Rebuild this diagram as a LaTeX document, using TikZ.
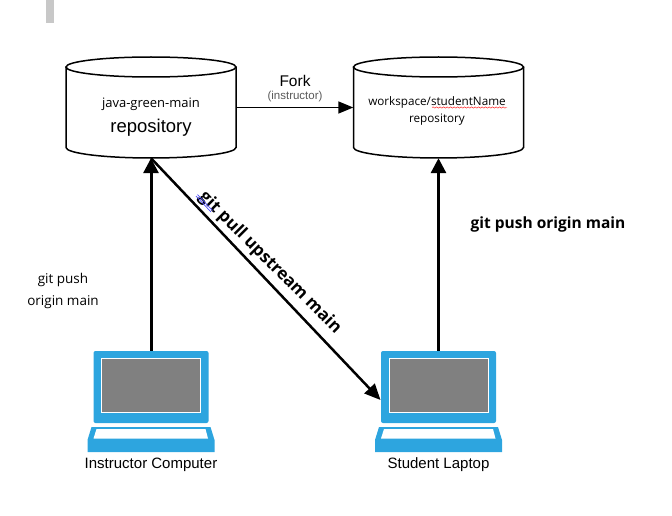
\documentclass[tikz,border=0pt]{standalone}
\usepackage{fontspec}
\setmainfont{Liberation Sans}
\newfontfamily\segoe{Open Sans}
\usetikzlibrary{arrows.meta,decorations.pathmorphing}
\definecolor{laptopblue}{HTML}{2DA5DF}
\definecolor{screengrey}{HTML}{808080}
\definecolor{bargrey}{HTML}{C8C8C8}
\tikzset{
    flow/.style={line width=3pt,-{Triangle[length=15pt,width=15pt]}},
    repo/.pic={
        \node[minimum width=170pt,minimum height=101pt,inner sep=0pt] (-box) at (0,0) {};
        \draw[line width=1.5pt] (0,-40.5) ellipse [x radius=85pt,y radius=10pt];
        \draw[line width=1.5pt] (-85,-40.5) -- (-85,40) arc [start angle=180,end angle=360,x radius=85pt,y radius=10.5pt] -- (85,-40.5);
    },
    laptop/.pic={
        \node[fill=laptopblue,rounded corners=2pt,minimum width=115pt,minimum height=72pt,inner sep=0pt] (-body) at (0,0) {};
        \fill[white] (-50,-29) rectangle (50,26);
        \fill[screengrey] (-49,-28) rectangle (49,25);
        \fill[laptopblue] (-59.5,40) -- (59.5,40) -- (63.5,53) -- (63.5,65) -- (-63.5,65) -- (-63.5,53) -- cycle;
        \fill[white] (-54.5,42) -- (54.5,42) -- (57,51.5) -- (-57.5,51.5) -- cycle;
        \coordinate (-side) at (-58,13);
    }
}
\begin{document}
\begin{tikzpicture}[x=1pt,y=-1pt]
    \useasboundingbox (0,0) rectangle (672,516);
    \fill[bargrey] (46,0) rectangle (54,23);
    % repositories
    \pic (javaRepo) at (151,107.5) {repo};
    \pic (studentRepo) at (438.5,107.5) {repo};
    \node (javaName) at (151,104) {\segoe\fontsize{13}{15}\selectfont java-green-main};
    \node (javaWord) at (151,128) {\fontsize{18.5}{20}\selectfont repository};
    \node (studentName) at (437,102) {\segoe\fontsize{11.7}{15}\selectfont workspace/studentName};
    \node (studentWord) at (437,120) {\segoe\fontsize{11.7}{15}\selectfont repository};
    \draw[red,decorate,decoration={snake,amplitude=0.7pt,segment length=3.5pt}] (432,107.5) -- (507,107.5);
    % laptops
    \pic (instructorPC) at (151,387) {laptop};
    \pic (studentPC) at (438.5,387) {laptop};
    \node (instructorLabel) at (151,464.5) {\fontsize{15}{18}\selectfont Instructor Computer};
    \node (studentLabel) at (438.5,464.5) {\fontsize{15}{18}\selectfont Student Laptop};
    % arrows
    \draw[line width=1.5pt,-{Triangle[length=15pt,width=12pt]}] (javaRepo-box.east) -- (studentRepo-box.west);
    \draw[flow] (instructorPC-body.north) -- (javaRepo-box.south);
    \draw[flow] (studentPC-body.north) -- (studentRepo-box.south);
    \draw[line width=2.5pt,-{Triangle[length=16pt,width=14pt]}] (javaRepo-box.south) -- (studentPC-side);
    % labels
    \node (forkLabel) at (295,81) {\fontsize{15.5}{18}\selectfont Fork};
    \node[text=black!65] (forkWho) at (295,97) {\fontsize{11.5}{14}\selectfont (instructor)};
    \node (pushOne) at (63,280) {\segoe\fontsize{13.5}{16}\selectfont git push};
    \node (pushTwo) at (63,302) {\segoe\fontsize{13.5}{16}\selectfont origin main};
    \node (pushStudent) at (548,224) {\segoe\bfseries\fontsize{15.5}{20}\selectfont git push origin main};
    \node[rotate=-45] (pullLabel) at (270,263) {\segoe\bfseries\fontsize{17}{20}\selectfont git pull upstream main};
    \draw[blue!70,line width=0.7pt] (196,196) -- (211,212);
    \draw[blue!70,line width=0.7pt] (197.5,194.5) -- (212.5,210.5);
\end{tikzpicture}
\end{document}
